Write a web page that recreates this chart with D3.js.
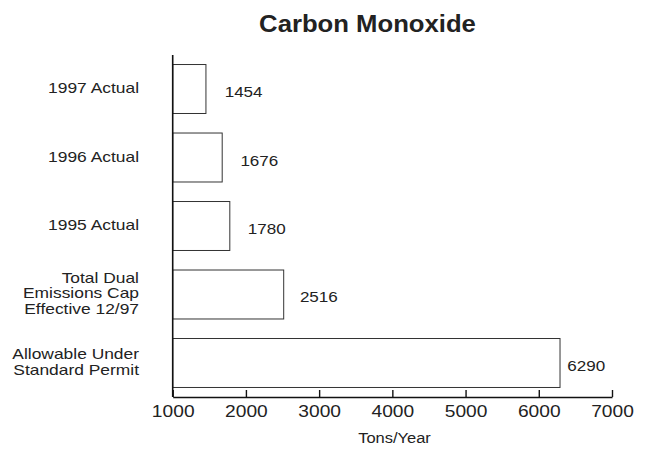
<!DOCTYPE html>
<html>
<head>
<meta charset="utf-8">
<script src="https://cdn.jsdelivr.net/npm/d3@7"></script>
<style>
  body { margin: 0; background: #fff; }
  svg text { font-family: "Liberation Sans", Arial, Helvetica, sans-serif; fill: #222; }
</style>
</head>
<body>
<svg id="chart"></svg>
<script>
const WIDTH = 649;
const HEIGHT = 450;

// chart data
const categories = [
    ['1997 Actual'],
    ['1996 Actual'],
    ['1995 Actual'],
    ['Total Dual', 'Emissions Cap', 'Effective 12/97'],
    ['Allowable Under', 'Standard Permit']
];
const values = [1454, 1676, 1780, 2516, 6290];
const xTicks = [1000, 2000, 3000, 4000, 5000, 6000, 7000];
const title = 'Carbon Monoxide';
const xTitle = 'Tons/Year';

const plot = { left: 172.7, right: 612, top: 55, bottom: 397 };

let svg = d3.select('#chart')
    .attr('width', WIDTH)
    .attr('height', HEIGHT);

let x = d3.scaleLinear()
    .domain([1000, 7000])
    .range([plot.left, plot.right]);

// value labels sit on a slightly compressed scale in the original
let xLabel = d3.scaleLinear()
    .domain([1000, 7000])
    .range([192.5, 617.5]);

let y = d3.scaleBand()
    .domain(d3.range(values.length))
    .range([plot.top, plot.bottom])
    .paddingInner(0.285)
    .paddingOuter(0.139);

// title
svg.append('text')
    .attr('transform', `translate(367.5, 32) scale(1.07, 1)`)
    .attr('text-anchor', 'middle')
    .style('font-size', '24px')
    .style('font-weight', 'bold')
    .text(title);

// bars
svg.append('g')
    .selectAll('rect')
    .data(values)
    .enter()
    .append('rect')
        .attr('x', x(1000))
        .attr('y', (d, i) => y(i))
        .attr('width', (d) => x(d) - x(1000))
        .attr('height', y.bandwidth())
        .attr('fill', '#fff')
        .attr('stroke', '#333')
        .attr('stroke-width', 1);

// value labels
svg.append('g')
    .selectAll('text')
    .data(values)
    .enter()
    .append('text')
        .attr('transform', (d, i) => `translate(${xLabel(d)}, ${y(i) + y.bandwidth() / 2 + 8}) scale(1.1, 1)`)
        .style('font-size', '15.5px')
        .text((d) => d);

// category labels
let catG = svg.append('g')
    .selectAll('text')
    .data(categories)
    .enter()
    .append('text')
        .attr('text-anchor', 'end')
        .style('font-size', '15px')
        .attr('transform', (d, i) => `translate(139, ${y(i) + y.bandwidth() / 2 + 4}) scale(1.16, 1)`);
catG.selectAll('tspan')
    .data((d) => d.map((t, j) => ({ t: t, off: (j - (d.length - 1) / 2) * 15.5 })))
    .enter()
    .append('tspan')
        .attr('x', 0)
        .attr('y', (d) => d.off)
        .text((d) => d.t);

// x axis, ticks pointing up into the plot
let xAxis = svg.append('g')
    .attr('transform', `translate(0, ${plot.bottom})`)
    .call(d3.axisBottom(x)
        .tickValues(xTicks)
        .tickFormat(d3.format('d'))
        .tickSizeInner(-7)
        .tickSizeOuter(0));
xAxis.select('.domain')
    .attr('stroke', '#111')
    .attr('stroke-width', 1.6);
xAxis.selectAll('.tick line')
    .attr('stroke', '#111')
    .attr('stroke-width', 1.4);
xAxis.selectAll('.tick text')
    .attr('y', 0)
    .attr('dy', null)
    .attr('transform', 'translate(0, 19.5) scale(1.13, 1)')
    .attr('fill', '#222')
    .style('font-size', '17px')
    .style('font-family', '"Liberation Sans", Arial, Helvetica, sans-serif');

// y axis line
svg.append('line')
    .attr('x1', plot.left)
    .attr('x2', plot.left)
    .attr('y1', plot.top)
    .attr('y2', plot.bottom)
    .attr('stroke', '#111')
    .attr('stroke-width', 1.6);

// axis title
svg.append('text')
    .attr('transform', `translate(394.5, 443) scale(1.1, 1)`)
    .attr('text-anchor', 'middle')
    .style('font-size', '15px')
    .text(xTitle);
</script>
</body>
</html>
